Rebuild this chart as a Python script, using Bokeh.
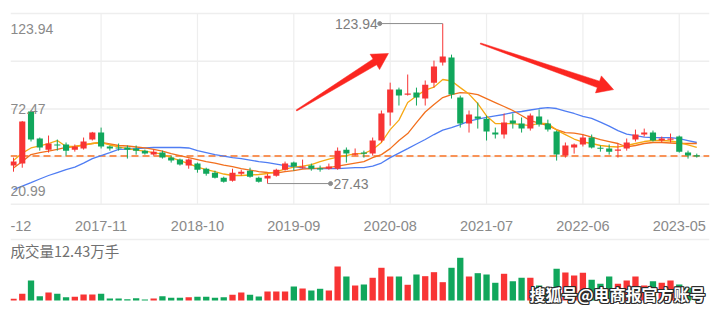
import numpy as np
from bokeh.plotting import figure
from bokeh.layouts import column
from bokeh.models import Range1d, Span
from bokeh.core.properties import value
from bokeh.embed import file_html
from bokeh.resources import INLINE

# ---------------- data (monthly candles, 2017-01 .. 2023-07) ----------------
first_month = "2017-01"
opens = [38.3, 39.5, 70.9, 54.6, 47.9, 51.0, 51.0, 47.9, 48.6, 54.0,
         58.2, 49.8, 49.2, 49.2, 48.6, 47.3, 44.9, 46.1, 43.1, 41.9,
         38.3, 39.5, 36.4, 34.0, 31.0, 29.2, 33.4, 35.2, 31.0, 30.5,
         32.2, 35.8, 40.1, 37.0, 38.3, 36.4, 36.4, 36.4, 47.9, 44.9,
         46.1, 45.5, 53.4, 70.3, 84.1, 81.1, 82.3, 78.7, 88.3, 100.4,
         103.4, 79.3, 63.6, 67.9, 66.6, 58.2, 57.0, 65.4, 63.6, 60.6,
         67.9, 63.6, 58.8, 44.3, 49.2, 51.0, 55.2, 48.9, 48.6, 47.3,
         48.6, 54.0, 57.0, 58.2, 53.4, 54.0, 55.8, 46.1, 44.3]
highs = [43.1, 65.2, 71.5, 55.2, 56.4, 54.0, 52.2, 51.0, 55.2, 58.6,
         61.2, 50.4, 51.6, 50.4, 50.4, 47.9, 47.9, 47.3, 44.3, 42.5,
         42.5, 40.1, 37.0, 35.2, 31.6, 36.4, 35.8, 37.0, 31.6, 33.4,
         36.4, 40.7, 40.7, 41.9, 39.5, 38.3, 39.5, 49.2, 49.2, 48.6,
         47.3, 55.2, 71.5, 88.3, 85.3, 93.2, 85.3, 89.6, 101.6, 123.94,
         105.2, 80.5, 71.5, 76.3, 68.5, 61.2, 69.7, 69.7, 67.3, 69.7,
         72.1, 66.0, 59.4, 52.2, 51.6, 57.0, 57.0, 50.4, 51.0, 51.6,
         54.6, 60.0, 60.6, 59.4, 55.8, 57.6, 56.4, 47.3, 45.5]
lows = [34.6, 37.0, 52.8, 47.3, 46.1, 47.3, 44.3, 46.7, 47.9, 53.4,
        48.6, 47.3, 47.3, 42.5, 44.9, 44.9, 44.3, 42.5, 40.1, 38.3,
        36.4, 34.0, 32.2, 30.5, 28.0, 28.6, 32.2, 31.0, 28.0, 27.43,
        31.6, 35.2, 35.2, 36.4, 35.2, 34.6, 35.8, 35.8, 40.1, 44.3,
        43.1, 44.3, 52.2, 62.4, 74.5, 80.5, 74.5, 74.5, 85.3, 98.6,
        78.7, 61.2, 58.2, 60.6, 53.4, 54.6, 54.6, 60.6, 58.2, 59.4,
        61.8, 58.8, 41.3, 43.1, 45.5, 49.8, 48.6, 46.7, 44.9, 43.1,
        47.3, 52.8, 55.8, 52.8, 52.2, 52.2, 46.1, 42.5, 43.1]
closes = [40.7, 64.8, 54.0, 49.2, 51.6, 50.4, 47.3, 49.8, 52.8, 58.2,
          49.8, 48.6, 48.6, 47.9, 47.3, 45.5, 46.7, 43.1, 41.3, 38.9,
          41.9, 35.8, 33.4, 31.0, 28.6, 34.0, 34.6, 31.6, 28.6, 32.2,
          35.8, 39.5, 37.7, 37.7, 36.4, 36.2, 37.7, 47.3, 45.5, 45.5,
          45.5, 53.4, 69.7, 84.1, 80.5, 81.7, 79.3, 87.1, 98.0, 104.0,
          81.1, 63.6, 69.1, 66.6, 58.8, 57.0, 64.2, 63.6, 60.6, 68.5,
          63.0, 60.0, 44.9, 50.4, 51.0, 55.2, 49.2, 48.6, 46.7, 47.9,
          52.2, 57.0, 58.2, 53.4, 54.6, 54.6, 46.7, 44.3, 44.0]
ma5 = [41.3, 45.8, 48.9, 50.1, 51.6, 53.4, 49.8, 49.8, 50.7, 51.6,
       52.2, 50.7, 49.5, 48.5, 47.6, 47.0, 46.1, 45.2, 43.1, 41.3,
       39.5, 37.4, 35.9, 34.7, 33.2, 32.3, 32.3, 32.6, 32.9, 33.5,
       34.7, 36.2, 37.4, 38.0, 38.9, 40.7, 42.2, 43.4, 44.3, 45.5,
       45.5, 48.0, 52.2, 60.0, 65.7, 76.3, 80.2, 83.8, 85.6, 90.2,
       89.3, 85.3, 81.4, 75.7, 68.2, 63.6, 63.6, 63.6, 63.0, 62.4,
       63.9, 63.6, 59.7, 57.0, 54.3, 52.5, 51.6, 50.4, 49.8, 49.5,
       50.4, 51.6, 52.8, 53.4, 53.4, 53.1, 52.2, 50.7, 49.2]
ma10 = [36.8, 40.7, 44.9, 46.1, 47.0, 48.0, 49.2, 49.8, 50.7, 51.6,
        52.2, 51.3, 50.4, 50.1, 49.5, 48.9, 48.0, 47.0, 45.5, 44.3,
        43.1, 41.9, 40.7, 39.8, 38.6, 37.7, 36.5, 35.6, 34.7, 34.1,
        33.8, 34.7, 35.3, 36.2, 36.5, 36.8, 37.1, 38.0, 38.9, 39.8,
        40.7, 43.1, 44.9, 48.5, 53.4, 57.6, 64.2, 70.6, 75.1, 79.3,
        81.1, 82.3, 82.0, 81.1, 78.7, 76.3, 73.9, 71.5, 68.5, 65.4,
        63.9, 62.4, 60.0, 58.2, 57.9, 57.0, 55.5, 54.0, 52.8, 51.6,
        49.5, 50.4, 51.6, 52.2, 52.2, 51.9, 51.6, 51.6, 51.6]
ma20 = [23.8, 25.9, 28.0, 30.2, 32.3, 34.1, 35.9, 37.4, 39.8, 42.5,
        44.3, 46.1, 48.0, 48.2, 48.5, 48.9, 49.2, 49.2, 49.2, 49.2,
        48.9, 47.3, 46.1, 44.9, 44.0, 43.1, 42.5, 41.6, 40.7, 40.1,
        39.2, 38.3, 37.7, 36.8, 36.5, 36.5, 36.5, 36.5, 36.8, 37.1,
        37.1, 38.0, 39.8, 43.1, 45.8, 48.5, 51.3, 54.0, 57.0, 59.7,
        61.2, 63.0, 65.1, 66.3, 67.3, 68.2, 69.1, 70.3, 70.9, 71.8,
        72.7, 73.3, 72.7, 71.2, 69.7, 67.9, 66.7, 64.5, 62.1, 59.4,
        57.3, 56.4, 55.5, 55.2, 55.2, 55.2, 54.6, 53.4, 52.2]
volumes = [4.2, 16.8, 50, 10.8, 20, 16.8, 8.3, 9.3, 15, 15,
           16.8, 5, 5, 3.3, 5.8, 2.5, 5, 10.8, 6.8, 6.8,
           8.3, 9.3, 9.3, 6.8, 8.3, 14.3, 20, 14.3, 10, 22.5,
           22.5, 22.5, 35, 30, 25, 29.3, 25, 85, 60, 37.5,
           40, 56.8, 81.8, 60, 60, 39.3, 65, 60.8, 70.8, 45.8,
           81.8, 106.8, 60, 68.3, 65, 44.3, 66.8, 48.3, 56.8, 56.8,
           37.5, 30, 79.3, 70, 62.5, 69.3, 51.8, 41.8, 60, 41.8,
           50, 60, 37.5, 48.3, 44.3, 50, 40, 31.8, 12.43]
tick_labels = ["2016-12", "2017-11", "2018-10", "2019-09",
               "2020-08", "2021-07", "2022-06", "2023-05"]
price_labels = [123.94, 72.47, 20.99]
grid_step = 28.77
volume_title = "成交量12.43万手"
watermark = "搜狐号@电商报官方账号"
arrow_tail_x = [32.3, 53.3]
arrow_tail_y = [71.5, 111.9]
arrow_tip_x = [42.8, 68.5]
arrow_tip_y = [105.9, 84.1]

# ---------------- layout / style ----------------
W, H1, H2 = 720, 236, 76
BL, BR = 10, 11
PX_X = 8.76                 # px per month
PX_Y = 47.7 / grid_step     # px per price unit
PX_V = 0.4                  # px per volume unit
UP, DOWN = "#f83434", "#11a75c"
GRID = "#eeeeee"
LABEL = "#8a8a8a"
NUMF = value("Liberation Sans")
CJKF = value("Noto Sans CJK SC")

def month_index(label):
    y, m = map(int, label.split("-"))
    y0, m0 = map(int, first_month.split("-"))
    return (y - y0) * 12 + (m - m0)

n = len(closes)
idx = list(range(n))
x_start = -3 / PX_X
x_end = x_start + (W - BL - BR) / PX_X
grid_vals = [price_labels[1] + k * grid_step for k in (-2, -1, 0, 1, 2)]
y_end = grid_vals[-1] + 13 / PX_Y
y_start = y_end - H1 / PX_Y

p = figure(width=W, height=H1, output_backend="svg", toolbar_location=None,
           x_range=Range1d(x_start, x_end), y_range=Range1d(y_start, y_end),
           x_axis_location=None, y_axis_location=None,
           min_border_left=BL, min_border_right=BR, min_border_top=0, min_border_bottom=0)
p.outline_line_color = None
p.grid.visible = False

# grid lines
for g in grid_vals:
    p.add_layout(Span(location=g, dimension="width", line_color=GRID, line_width=1.5, level="underlay"))
tick_idx = [month_index(t) for t in tick_labels]
p.segment(x0=tick_idx, y0=[grid_vals[0]] * len(tick_idx), x1=tick_idx, y1=[grid_vals[-1]] * len(tick_idx),
          line_color=GRID, line_width=1.2, level="underlay")

# last price dashed line
p.add_layout(Span(location=closes[-1], dimension="width", line_color="#f89358",
                  line_width=2, line_dash="7 4", level="underlay"))

# moving averages
p.line(idx, ma20, line_color="#4f7df3", line_width=1.3)
p.line(idx, ma10, line_color="#f2701e", line_width=1.3)
p.line(idx, ma5, line_color="#f7a813", line_width=1.3)

# candles
colors = [UP if c >= o else DOWN for o, c in zip(opens, closes)]
min_h = 1.2 / PX_Y
tops, bots = [], []
for o, c in zip(opens, closes):
    t, b = max(o, c), min(o, c)
    if t - b < min_h:
        mid = (t + b) / 2
        t, b = mid + min_h / 2, mid - min_h / 2
    tops.append(t)
    bots.append(b)
p.segment(x0=idx, y0=lows, x1=idx, y1=highs, line_color=colors, line_width=1)
p.vbar(x=idx, top=tops, bottom=bots, width=0.7, fill_color=colors, line_color=None)

# max / min markers
mark_len = 63 / PX_X
ih = highs.index(max(highs))
il = lows.index(min(lows))
hx = ih - mark_len
lx = il + mark_len
p.segment(x0=[hx, il], y0=[highs[ih], lows[il]], x1=[ih, lx], y1=[highs[ih], lows[il]],
          line_color="#8c8c8c", line_width=1)
p.scatter(x=[hx, lx], y=[highs[ih], lows[il]], size=4, color="#8c8c8c")
p.text(x=[hx], y=[highs[ih]], text=[f"{highs[ih]:.2f}"], text_align="right", text_baseline="middle",
       x_offset=-2, text_font=NUMF, text_font_size="14px", text_color="#7d7d7d")
p.text(x=[lx], y=[lows[il]], text=[f"{lows[il]:.2f}"], text_align="left", text_baseline="middle",
       x_offset=3, text_font=NUMF, text_font_size="14px", text_color="#7d7d7d")

# y labels
p.text(x=[x_start], y=[price_labels[0]], text=[f"{price_labels[0]:.2f}"], text_baseline="top",
       text_font=NUMF, text_font_size="14px", text_color=LABEL)
p.text(x=[x_start], y=[price_labels[1]], text=[f"{price_labels[1]:.2f}"], text_baseline="middle",
       text_font=NUMF, text_font_size="14px", text_color=LABEL)
p.text(x=[x_start], y=[price_labels[2]], text=[f"{price_labels[2]:.2f}"], text_baseline="middle",
       y_offset=-3, text_font=NUMF, text_font_size="14px", text_color=LABEL)

# x labels
p.text(x=tick_idx, y=[y_start] * len(tick_idx), text=tick_labels, text_align="center",
       text_baseline="middle", y_offset=-11, text_font=NUMF, text_font_size="14.5px", text_color=LABEL)

# arrows
HEAD_LEN, HEAD_HW, SHAFT_HW, TAIL_HW = 16, 9, 3.4, 0.6
axs, ays = [], []
for tx, ty, qx, qy in zip(arrow_tail_x, arrow_tail_y, arrow_tip_x, arrow_tip_y):
    T = np.array([tx * PX_X, ty * PX_Y])
    P = np.array([qx * PX_X, qy * PX_Y])
    d = (P - T) / np.linalg.norm(P - T)
    nv = np.array([-d[1], d[0]])
    B = P - d * HEAD_LEN
    pts = [T + nv * TAIL_HW, B + nv * SHAFT_HW, B + nv * HEAD_HW, P,
           B - nv * HEAD_HW, B - nv * SHAFT_HW, T - nv * TAIL_HW]
    axs.append([float(q[0] / PX_X) for q in pts])
    ays.append([float(q[1] / PX_Y) for q in pts])
p.patches(xs=axs, ys=ays, fill_color="#fb2620", line_color="#fb2620", line_width=0.5)

# ---------------- volume panel ----------------
v_end = 64 / PX_V
v_start = v_end - H2 / PX_V
q = figure(width=W, height=H2, output_backend="svg", toolbar_location=None,
           x_range=p.x_range, y_range=Range1d(v_start, v_end),
           x_axis_location=None, y_axis_location=None,
           min_border_left=BL, min_border_right=BR, min_border_top=0, min_border_bottom=0)
q.outline_line_color = None
q.grid.visible = False
q.add_layout(Span(location=v_end - 3 / PX_V, dimension="width", line_color=GRID, line_width=1.5,
                  level="underlay"))
q.vbar(x=idx, top=volumes, bottom=0, width=0.72, fill_color=colors, line_color=None)
q.text(x=[x_start], y=[v_end], text=[volume_title], text_baseline="middle", y_offset=14,
       text_font=CJKF, text_font_size="14.5px", text_color="#707070")

# watermark: dark outline then white text
for dx, dy in [(-1, 0), (1, 0), (0, -1), (0, 1), (-1, -1), (1, 1), (-1, 1), (1, -1)]:
    q.text(x=[x_end], y=[v_start], text=[watermark], text_align="right", text_baseline="middle",
           x_offset=-4 + dx, y_offset=-19 + dy, text_font=CJKF, text_font_size="16px",
           text_font_style="bold", text_color="#2b2b2b")
q.text(x=[x_end], y=[v_start], text=[watermark], text_align="right", text_baseline="middle",
       x_offset=-4, y_offset=-19, text_font=CJKF, text_font_size="16px",
       text_font_style="bold", text_color="#ffffff")

layout = column(p, q, spacing=0)
open("out.html", "w").write(file_html(layout, INLINE))
